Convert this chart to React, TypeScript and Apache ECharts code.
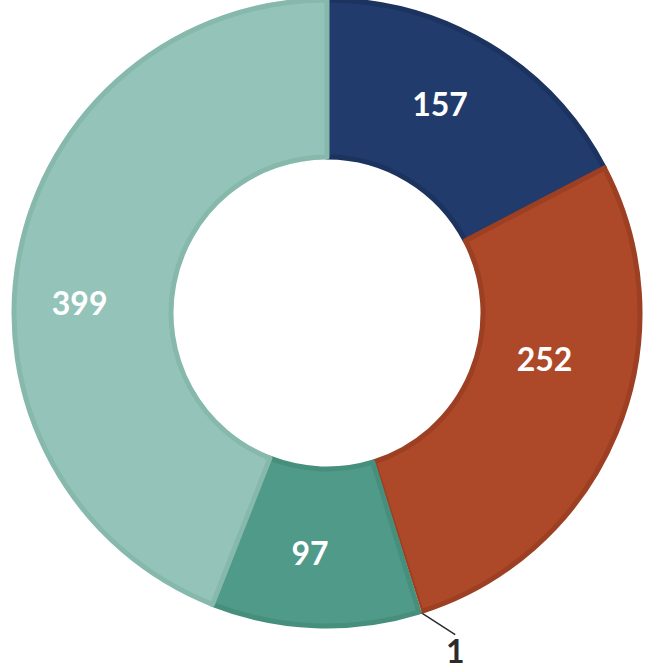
import React, { useEffect, useRef } from "react";
import * as echarts from "echarts";

const categories = ["A", "B", "C", "D", "E"];
const values = [157, 252, 1, 97, 399];
const colors = ["#213b6c", "#ad4829", "#ecc9a6", "#4f9a89", "#94c4b9"];
const borderColors = ["#1c335f", "#9c3f22", "#e2bd98", "#468f7c", "#86b8ac"];

export default function App() {
  const ref = useRef<HTMLDivElement>(null);
  useEffect(() => {
    if (!ref.current) return;
    const chart = echarts.init(ref.current, null, { renderer: "svg" });
    const labelShift: Record<string, [number, number]> = {
      A: [-10, -6],
      B: [-2, -45],
      D: [-8, 2],
      E: [-14, 34],
    };
    chart.setOption({
      animation: false,
      series: [
        {
          type: "pie",
          center: [327, 313],
          radius: [156, 313],
          startAngle: 90,
          clockwise: true,
          avoidLabelOverlap: false,
          label: {
            show: true,
            position: "inside",
            color: "#ffffff",
            fontFamily: "Lato",
            fontWeight: "bold",
            fontSize: 32,
            formatter: "{c}",
          },
          labelLayout: (p: any) => {
            const name = categories[p.dataIndex];
            if (name === "C") {
              const r = p.labelRect;
              return {
                x: r.x + r.width / 2 + 12,
                y: r.y + r.height / 2 + 10,
                align: "center",
                verticalAlign: "middle",
              };
            }
            const s = labelShift[name];
            if (!s) return {};
            return { dx: s[0], dy: s[1] };
          },
          data: values.map((v, i) => {
            const item: any = {
              name: categories[i],
              value: v,
              itemStyle: {
                color: colors[i],
                borderColor: borderColors[i],
                borderWidth: 5,
              },
            };
            if (v === 1) {
              item.itemStyle.borderWidth = 1;
              item.label = {
                position: "outside",
                color: "#2b2b2b",
                fontFamily: "Lato",
                fontWeight: "bold",
                fontSize: 32,
              };
              item.labelLine = {
                show: true,
                length: 30,
                length2: 0,
                lineStyle: { color: "#2b2b2b", width: 1.5 },
              };
            }
            return item;
          }),
        },
      ],
    });
    return () => chart.dispose();
  }, []);
  return (
    <div
      ref={ref}
      style={{ position: "fixed", left: 0, top: 0, width: 658, height: 672, background: "#ffffff" }}
    />
  );
}
